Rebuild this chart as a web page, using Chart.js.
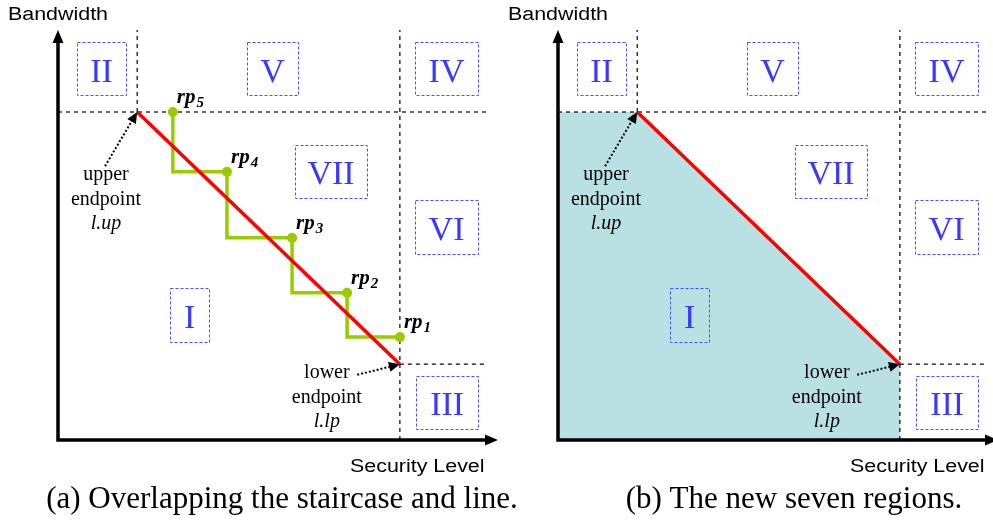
<!DOCTYPE html>
<html><head><meta charset="utf-8">
<script src="https://cdn.jsdelivr.net/npm/chart.js@4.4.1/dist/chart.umd.min.js"></script>
<style>
html,body{margin:0;padding:0;background:#fff;overflow:hidden;width:993px;height:522px}
.p{position:absolute;top:0;height:522px}
#pa{left:0;width:560px;z-index:1}#pb{left:500px;width:500px;z-index:2}
canvas{display:block}
</style></head><body>
<div class="p" id="pa"><canvas id="ca" width="560" height="522"></canvas></div>
<div class="p" id="pb"><canvas id="cb" width="500" height="522"></canvas></div>
<script>
// ---- data (in axis units: security level / bandwidth, 0..100) ----
const upperEndpoint = [18.0, 80.0];
const lowerEndpoint = [77.7, 18.5];
const stairX = [26.1, 38.4, 53.2, 65.7, 77.7];
const stairY = [80.0, 65.4, 49.3, 35.9, 25.1];
const stairNames = ['5', '4', '3', '2', '1'];
const regionNames = ['I', 'II', 'III', 'IV', 'V', 'VI', 'VII'];
const regionX0 = [25.5, 4.3, 81.4, 81.1, 43.0, 81.1, 53.9];
const regionX1 = [34.3, 15.5, 95.5, 95.5, 54.5, 95.5, 70.2];
const regionY0 = [23.9, 84.1, 2.7, 84.1, 84.1, 45.4, 59.0];
const regionY1 = [37.1, 97.1, 15.6, 97.1, 97.1, 58.5, 72.0];
const axisMax = 100;
const dividerEnd = 97.5;
const xAxisTitle = 'Security Level';
const yAxisTitle = 'Bandwidth';
const captions = ['(a) Overlapping the staircase and line.', '(b) The new seven regions.'];
const upperNote = ['upper', 'endpoint', 'l.up'];
const lowerNote = ['lower', 'endpoint', 'l.lp'];
const upperNoteAt = [10.9, 63.4];
const upperArrowTail = [10.7, 66.8];
const lowerNoteAt = [61.1, 15.1];
const lowerArrowTail = [68.0, 15.9];

// ---- layout / style ----
const captionCenter = [282, 294];
const rightPad = [62, 2];
const serif = '"Liberation Serif","Times New Roman",serif';
const sans = '"Liberation Sans",Arial,sans-serif';

function pts(xs, ys) { return xs.map((v, i) => ({ x: v, y: ys[i] })); }
function dashed(data) {
  return { data, borderColor: '#000', borderWidth: 1.2, borderDash: [4, 4], pointRadius: 0, order: 5, fill: false };
}

function txt(ctx, s, x, y, font, align, sx) {
  ctx.save();
  ctx.font = font;
  ctx.textBaseline = 'alphabetic';
  ctx.textAlign = align || 'left';
  ctx.translate(x, y);
  ctx.scale(sx || 1, 1);
  ctx.fillText(s, 0, 0);
  ctx.restore();
}
function arrowHead(ctx, x0, y0, x1, y1, len, hw) {
  const a = Math.atan2(y1 - y0, x1 - x0);
  ctx.beginPath();
  ctx.moveTo(x1, y1);
  ctx.lineTo(x1 - len * Math.cos(a) + hw * Math.sin(a), y1 - len * Math.sin(a) - hw * Math.cos(a));
  ctx.lineTo(x1 - len * Math.cos(a) - hw * Math.sin(a), y1 - len * Math.sin(a) + hw * Math.cos(a));
  ctx.closePath();
  ctx.fill();
}

const figPlugin = {
  id: 'fig',
  afterDatasetsDraw(chart) {
    const { ctx, scales: { x, y } } = chart;
    const panel = chart.options.plugins.fig.panel;
    const ox = x.getPixelForValue(0), oy = y.getPixelForValue(0);
    const tx = x.getPixelForValue(axisMax), ty = y.getPixelForValue(axisMax);
    ctx.save();
    // region boxes
    ctx.save();
    ctx.strokeStyle = '#4d4dff';
    ctx.lineWidth = 1;
    ctx.setLineDash([3, 2]);
    regionNames.forEach((n, i) => {
      const l = Math.round(x.getPixelForValue(regionX0[i])) + 0.5;
      const r = Math.round(x.getPixelForValue(regionX1[i])) + 0.5;
      const t = Math.round(y.getPixelForValue(regionY1[i])) + 0.5;
      const b = Math.round(y.getPixelForValue(regionY0[i])) + 0.5;
      ctx.strokeRect(l, t, r - l, b - t);
    });
    ctx.restore();
    // axes
    ctx.strokeStyle = '#000'; ctx.fillStyle = '#000'; ctx.lineWidth = 3.5;
    ctx.beginPath();
    ctx.moveTo(ox, ty + 8); ctx.lineTo(ox, oy); ctx.lineTo(tx - 8, oy);
    ctx.stroke();
    arrowHead(ctx, ox, oy, ox, ty, 13, 5.5);
    arrowHead(ctx, ox, oy, tx, oy, 13, 5.5);
    // region numerals
    ctx.fillStyle = '#3838ff';
    regionNames.forEach((n, i) => {
      const cx = (x.getPixelForValue(regionX0[i]) + x.getPixelForValue(regionX1[i])) / 2;
      const cy = (y.getPixelForValue(regionY0[i]) + y.getPixelForValue(regionY1[i])) / 2;
      txt(ctx, n, cx, cy + 13, '34px ' + serif, 'center');
    });
    // dotted annotation arrows
    ctx.fillStyle = '#000'; ctx.strokeStyle = '#000';
    [[upperArrowTail, upperEndpoint], [lowerArrowTail, lowerEndpoint]].forEach(([a, b]) => {
      const x0 = x.getPixelForValue(a[0]), y0 = y.getPixelForValue(a[1]);
      const x1 = x.getPixelForValue(b[0]), y1 = y.getPixelForValue(b[1]);
      const ang = Math.atan2(y1 - y0, x1 - x0);
      ctx.save();
      ctx.lineWidth = 2; ctx.setLineDash([2, 2]);
      ctx.beginPath(); ctx.moveTo(x0, y0); ctx.lineTo(x1 - 9 * Math.cos(ang), y1 - 9 * Math.sin(ang)); ctx.stroke();
      ctx.restore();
      arrowHead(ctx, x0, y0, x1, y1, 11, 5);
    });
    // notes
    [[upperNote, upperNoteAt], [lowerNote, lowerNoteAt]].forEach(([lines, at]) => {
      const cx = x.getPixelForValue(at[0]), by = y.getPixelForValue(at[1]);
      lines.forEach((s, k) => txt(ctx, s, cx, by + 24.5 * k, (k === 2 ? 'italic ' : '') + '20px ' + serif, 'center'));
    });
    // staircase labels
    if (panel === 0) {
      stairX.forEach((v, i) => {
        const px = x.getPixelForValue(v) + 4, py = y.getPixelForValue(stairY[i]) - 9;
        ctx.font = 'bold italic 21px ' + serif;
        const w = ctx.measureText('rp').width;
        txt(ctx, 'rp', px, py, 'bold italic 21px ' + serif, 'left');
        txt(ctx, stairNames[i], px + w + 1, py + 4, 'bold italic 15px ' + serif, 'left');
      });
    }
    // axis titles
    txt(ctx, yAxisTitle, 8, 20, '18px ' + sans, 'left', 1.19);
    txt(ctx, xAxisTitle, 350, 472, '18px ' + sans, 'left', 1.19);
    // caption
    txt(ctx, captions[panel], captionCenter[panel], 508, '31px ' + serif, 'center');
    ctx.restore();
  }
};

function makeChart(id, panel) {
  const datasets = [
    { data: [{ x: upperEndpoint[0], y: upperEndpoint[1] }, { x: lowerEndpoint[0], y: lowerEndpoint[1] }],
      borderColor: '#ff0000', borderWidth: 3.5, pointRadius: 0, order: 0, fill: false },
    dashed([{ x: upperEndpoint[0], y: upperEndpoint[1] }, { x: upperEndpoint[0], y: axisMax }]),
    dashed([{ x: 0, y: upperEndpoint[1] }, { x: dividerEnd, y: upperEndpoint[1] }]),
    dashed([{ x: lowerEndpoint[0], y: 0 }, { x: lowerEndpoint[0], y: axisMax }]),
    dashed([{ x: lowerEndpoint[0], y: lowerEndpoint[1] }, { x: dividerEnd, y: lowerEndpoint[1] }])
  ];
  if (panel === 0) {
    datasets.push({ data: pts(stairX, stairY), stepped: 'after', borderColor: '#99cc00', borderWidth: 3.5,
      pointRadius: 5, pointBackgroundColor: '#99cc00', pointBorderWidth: 0, order: 1, fill: false });
  } else {
    datasets.push({ data: [{ x: 0, y: upperEndpoint[1] }, { x: upperEndpoint[0], y: upperEndpoint[1] },
      { x: lowerEndpoint[0], y: lowerEndpoint[1] }, { x: lowerEndpoint[0], y: 0 }],
      borderWidth: 0, borderColor: 'rgba(0,0,0,0)', backgroundColor: '#b9e0e3', pointRadius: 0, fill: 'origin', order: 10 });
  }
  return new Chart(document.getElementById(id), {
    type: 'line',
    data: { datasets },
    options: {
      responsive: false, animation: false, devicePixelRatio: 1,
      layout: { padding: { left: 58, right: rightPad[panel], top: 30, bottom: 82 } },
      scales: {
        x: { type: 'linear', min: 0, max: axisMax, display: false },
        y: { type: 'linear', min: 0, max: axisMax, display: false }
      },
      plugins: { legend: { display: false }, tooltip: { enabled: false }, fig: { panel } }
    },
    plugins: [figPlugin]
  });
}
makeChart('ca', 0);
makeChart('cb', 1);
</script>
</body></html>
